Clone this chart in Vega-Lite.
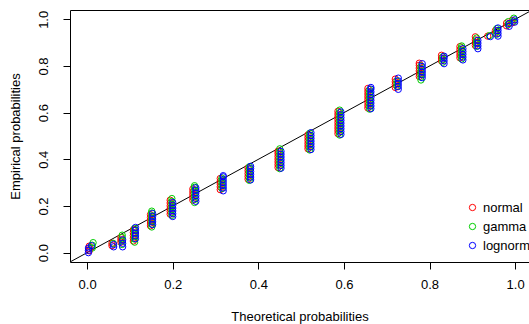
{
  "$schema": "https://vega.github.io/schema/vega-lite/v6.json",
  "width": 459,
  "height": 252,
  "autosize": {"type": "none"},
  "padding": {"left": 70, "top": 10, "right": 0, "bottom": 62},
  "background": "white",
  "config": {
    "view": {"stroke": "black", "strokeWidth": 1},
    "font": "Liberation Sans",
    "axis": {"grid": false, "domain": false, "tickColor": "black", "tickSize": 7, "labelFontSize": 13, "titleFontSize": 13, "labelColor": "black", "titleColor": "black", "titleFontWeight": "normal", "labelFont": "Liberation Sans", "titleFont": "Liberation Sans"}
  },
  "layer": [
    {
      "data": {"values": [{"x": -0.2, "y": -0.2}, {"x": 1.2, "y": 1.2}]},
      "mark": {"type": "line", "color": "black", "strokeWidth": 1, "clip": true},
      "encoding": {
        "x": {"field": "x", "type": "quantitative"},
        "y": {"field": "y", "type": "quantitative"}
      }
    },
    {
      "data": {"values": [
        {"d":"normal","x":0.005,"y":0.008},{"d":"normal","x":0.005,"y":0.018},{"d":"normal","x":0.005,"y":0.028},
        {"d":"normal","x":0.058,"y":0.03},{"d":"normal","x":0.058,"y":0.04},
        {"d":"normal","x":0.079,"y":0.045},{"d":"normal","x":0.079,"y":0.055},{"d":"normal","x":0.079,"y":0.065},
        {"d":"normal","x":0.108,"y":0.05},{"d":"normal","x":0.108,"y":0.062},{"d":"normal","x":0.108,"y":0.074},{"d":"normal","x":0.108,"y":0.086},{"d":"normal","x":0.108,"y":0.098},
        {"d":"normal","x":0.148,"y":0.115},{"d":"normal","x":0.148,"y":0.127},{"d":"normal","x":0.148,"y":0.139},{"d":"normal","x":0.148,"y":0.151},{"d":"normal","x":0.148,"y":0.163},
        {"d":"normal","x":0.194,"y":0.165},{"d":"normal","x":0.194,"y":0.177},{"d":"normal","x":0.194,"y":0.189},{"d":"normal","x":0.194,"y":0.201},{"d":"normal","x":0.194,"y":0.213},{"d":"normal","x":0.194,"y":0.225},
        {"d":"normal","x":0.247,"y":0.225},{"d":"normal","x":0.247,"y":0.237},{"d":"normal","x":0.247,"y":0.249},{"d":"normal","x":0.247,"y":0.261},{"d":"normal","x":0.247,"y":0.273},
        {"d":"normal","x":0.311,"y":0.27},{"d":"normal","x":0.311,"y":0.282},{"d":"normal","x":0.311,"y":0.294},{"d":"normal","x":0.311,"y":0.306},{"d":"normal","x":0.311,"y":0.318},
        {"d":"normal","x":0.376,"y":0.315},{"d":"normal","x":0.376,"y":0.327},{"d":"normal","x":0.376,"y":0.339},{"d":"normal","x":0.376,"y":0.351},{"d":"normal","x":0.376,"y":0.363},
        {"d":"normal","x":0.446,"y":0.365},{"d":"normal","x":0.446,"y":0.377},{"d":"normal","x":0.446,"y":0.389},{"d":"normal","x":0.446,"y":0.401},{"d":"normal","x":0.446,"y":0.413},{"d":"normal","x":0.446,"y":0.425},{"d":"normal","x":0.446,"y":0.435},
        {"d":"normal","x":0.516,"y":0.445},{"d":"normal","x":0.516,"y":0.457},{"d":"normal","x":0.516,"y":0.469},{"d":"normal","x":0.516,"y":0.481},{"d":"normal","x":0.516,"y":0.493},{"d":"normal","x":0.516,"y":0.505},
        {"d":"normal","x":0.586,"y":0.51},{"d":"normal","x":0.586,"y":0.522},{"d":"normal","x":0.586,"y":0.534},{"d":"normal","x":0.586,"y":0.546},{"d":"normal","x":0.586,"y":0.558},{"d":"normal","x":0.586,"y":0.57},{"d":"normal","x":0.586,"y":0.582},{"d":"normal","x":0.586,"y":0.594},{"d":"normal","x":0.586,"y":0.606},
        {"d":"normal","x":0.656,"y":0.62},{"d":"normal","x":0.656,"y":0.632},{"d":"normal","x":0.656,"y":0.644},{"d":"normal","x":0.656,"y":0.656},{"d":"normal","x":0.656,"y":0.668},{"d":"normal","x":0.656,"y":0.68},{"d":"normal","x":0.656,"y":0.692},{"d":"normal","x":0.656,"y":0.704},
        {"d":"normal","x":0.72,"y":0.708},{"d":"normal","x":0.72,"y":0.72},{"d":"normal","x":0.72,"y":0.732},{"d":"normal","x":0.72,"y":0.744},
        {"d":"normal","x":0.776,"y":0.755},{"d":"normal","x":0.776,"y":0.767},{"d":"normal","x":0.776,"y":0.779},{"d":"normal","x":0.776,"y":0.791},{"d":"normal","x":0.776,"y":0.803},{"d":"normal","x":0.776,"y":0.812},
        {"d":"normal","x":0.828,"y":0.822},{"d":"normal","x":0.828,"y":0.834},{"d":"normal","x":0.828,"y":0.846},
        {"d":"normal","x":0.871,"y":0.835},{"d":"normal","x":0.871,"y":0.847},{"d":"normal","x":0.871,"y":0.859},{"d":"normal","x":0.871,"y":0.871},{"d":"normal","x":0.871,"y":0.883},
        {"d":"normal","x":0.907,"y":0.888},{"d":"normal","x":0.907,"y":0.9},{"d":"normal","x":0.907,"y":0.912},{"d":"normal","x":0.907,"y":0.925},
        {"d":"normal","x":0.936,"y":0.928},
        {"d":"normal","x":0.954,"y":0.94},{"d":"normal","x":0.954,"y":0.952},
        {"d":"normal","x":0.98,"y":0.972},{"d":"normal","x":0.98,"y":0.984},
        {"d":"normal","x":0.993,"y":0.985},{"d":"normal","x":0.993,"y":0.996},

        {"d":"gamma","x":0.012,"y":0.02},{"d":"gamma","x":0.012,"y":0.032},{"d":"gamma","x":0.014,"y":0.043},
        {"d":"gamma","x":0.061,"y":0.04},
        {"d":"gamma","x":0.082,"y":0.035},{"d":"gamma","x":0.082,"y":0.05},{"d":"gamma","x":0.082,"y":0.065},{"d":"gamma","x":0.082,"y":0.075},
        {"d":"gamma","x":0.111,"y":0.045},{"d":"gamma","x":0.111,"y":0.058},{"d":"gamma","x":0.111,"y":0.07},{"d":"gamma","x":0.111,"y":0.082},{"d":"gamma","x":0.111,"y":0.094},{"d":"gamma","x":0.111,"y":0.104},
        {"d":"gamma","x":0.151,"y":0.11},{"d":"gamma","x":0.151,"y":0.122},{"d":"gamma","x":0.151,"y":0.134},{"d":"gamma","x":0.151,"y":0.146},{"d":"gamma","x":0.151,"y":0.158},{"d":"gamma","x":0.151,"y":0.17},{"d":"gamma","x":0.151,"y":0.178},
        {"d":"gamma","x":0.198,"y":0.16},{"d":"gamma","x":0.198,"y":0.172},{"d":"gamma","x":0.198,"y":0.184},{"d":"gamma","x":0.198,"y":0.196},{"d":"gamma","x":0.198,"y":0.208},{"d":"gamma","x":0.198,"y":0.22},{"d":"gamma","x":0.198,"y":0.232},
        {"d":"gamma","x":0.251,"y":0.215},{"d":"gamma","x":0.251,"y":0.228},{"d":"gamma","x":0.251,"y":0.241},{"d":"gamma","x":0.251,"y":0.254},{"d":"gamma","x":0.251,"y":0.267},{"d":"gamma","x":0.251,"y":0.28},{"d":"gamma","x":0.251,"y":0.287},
        {"d":"gamma","x":0.315,"y":0.275},{"d":"gamma","x":0.315,"y":0.287},{"d":"gamma","x":0.315,"y":0.299},{"d":"gamma","x":0.315,"y":0.311},{"d":"gamma","x":0.315,"y":0.32},
        {"d":"gamma","x":0.379,"y":0.31},{"d":"gamma","x":0.379,"y":0.322},{"d":"gamma","x":0.379,"y":0.334},{"d":"gamma","x":0.379,"y":0.346},{"d":"gamma","x":0.379,"y":0.358},{"d":"gamma","x":0.379,"y":0.368},
        {"d":"gamma","x":0.45,"y":0.36},{"d":"gamma","x":0.45,"y":0.372},{"d":"gamma","x":0.45,"y":0.384},{"d":"gamma","x":0.45,"y":0.396},{"d":"gamma","x":0.45,"y":0.408},{"d":"gamma","x":0.45,"y":0.42},{"d":"gamma","x":0.45,"y":0.432},{"d":"gamma","x":0.45,"y":0.445},
        {"d":"gamma","x":0.52,"y":0.44},{"d":"gamma","x":0.52,"y":0.452},{"d":"gamma","x":0.52,"y":0.464},{"d":"gamma","x":0.52,"y":0.476},{"d":"gamma","x":0.52,"y":0.488},{"d":"gamma","x":0.52,"y":0.5},{"d":"gamma","x":0.52,"y":0.512},
        {"d":"gamma","x":0.59,"y":0.504},{"d":"gamma","x":0.59,"y":0.516},{"d":"gamma","x":0.59,"y":0.528},{"d":"gamma","x":0.59,"y":0.54},{"d":"gamma","x":0.59,"y":0.552},{"d":"gamma","x":0.59,"y":0.564},{"d":"gamma","x":0.59,"y":0.576},{"d":"gamma","x":0.59,"y":0.588},{"d":"gamma","x":0.59,"y":0.6},{"d":"gamma","x":0.59,"y":0.611},
        {"d":"gamma","x":0.66,"y":0.615},{"d":"gamma","x":0.66,"y":0.627},{"d":"gamma","x":0.66,"y":0.639},{"d":"gamma","x":0.66,"y":0.651},{"d":"gamma","x":0.66,"y":0.663},{"d":"gamma","x":0.66,"y":0.675},{"d":"gamma","x":0.66,"y":0.687},{"d":"gamma","x":0.66,"y":0.699},
        {"d":"gamma","x":0.724,"y":0.712},{"d":"gamma","x":0.724,"y":0.724},{"d":"gamma","x":0.724,"y":0.736},
        {"d":"gamma","x":0.78,"y":0.74},{"d":"gamma","x":0.78,"y":0.752},{"d":"gamma","x":0.78,"y":0.764},{"d":"gamma","x":0.78,"y":0.776},{"d":"gamma","x":0.78,"y":0.788},{"d":"gamma","x":0.78,"y":0.8},
        {"d":"gamma","x":0.831,"y":0.816},{"d":"gamma","x":0.831,"y":0.828},{"d":"gamma","x":0.831,"y":0.84},
        {"d":"gamma","x":0.875,"y":0.83},{"d":"gamma","x":0.875,"y":0.842},{"d":"gamma","x":0.875,"y":0.854},{"d":"gamma","x":0.875,"y":0.866},{"d":"gamma","x":0.875,"y":0.878},{"d":"gamma","x":0.875,"y":0.886},
        {"d":"gamma","x":0.91,"y":0.884},{"d":"gamma","x":0.91,"y":0.896},{"d":"gamma","x":0.91,"y":0.908},{"d":"gamma","x":0.91,"y":0.92},
        {"d":"gamma","x":0.94,"y":0.93},
        {"d":"gamma","x":0.957,"y":0.936},{"d":"gamma","x":0.957,"y":0.948},{"d":"gamma","x":0.957,"y":0.96},
        {"d":"gamma","x":0.984,"y":0.978},{"d":"gamma","x":0.984,"y":0.99},
        {"d":"gamma","x":0.997,"y":0.992},{"d":"gamma","x":0.997,"y":1.005},

        {"d":"lognorm","x":0.003,"y":0.0},{"d":"lognorm","x":0.003,"y":0.01},{"d":"lognorm","x":0.003,"y":0.02},{"d":"lognorm","x":0.01,"y":0.03},
        {"d":"lognorm","x":0.062,"y":0.025},{"d":"lognorm","x":0.062,"y":0.035},
        {"d":"lognorm","x":0.083,"y":0.025},{"d":"lognorm","x":0.083,"y":0.04},{"d":"lognorm","x":0.083,"y":0.055},
        {"d":"lognorm","x":0.113,"y":0.06},{"d":"lognorm","x":0.113,"y":0.072},{"d":"lognorm","x":0.113,"y":0.084},{"d":"lognorm","x":0.113,"y":0.096},{"d":"lognorm","x":0.113,"y":0.108},
        {"d":"lognorm","x":0.153,"y":0.12},{"d":"lognorm","x":0.153,"y":0.132},{"d":"lognorm","x":0.153,"y":0.144},{"d":"lognorm","x":0.153,"y":0.156},{"d":"lognorm","x":0.153,"y":0.168},
        {"d":"lognorm","x":0.2,"y":0.155},{"d":"lognorm","x":0.2,"y":0.167},{"d":"lognorm","x":0.2,"y":0.179},{"d":"lognorm","x":0.2,"y":0.191},{"d":"lognorm","x":0.2,"y":0.203},{"d":"lognorm","x":0.2,"y":0.215},
        {"d":"lognorm","x":0.254,"y":0.22},{"d":"lognorm","x":0.254,"y":0.232},{"d":"lognorm","x":0.254,"y":0.244},{"d":"lognorm","x":0.254,"y":0.256},{"d":"lognorm","x":0.254,"y":0.268},{"d":"lognorm","x":0.254,"y":0.278},
        {"d":"lognorm","x":0.318,"y":0.265},{"d":"lognorm","x":0.318,"y":0.277},{"d":"lognorm","x":0.318,"y":0.289},{"d":"lognorm","x":0.318,"y":0.301},{"d":"lognorm","x":0.318,"y":0.313},{"d":"lognorm","x":0.318,"y":0.325},{"d":"lognorm","x":0.318,"y":0.33},
        {"d":"lognorm","x":0.382,"y":0.312},{"d":"lognorm","x":0.382,"y":0.324},{"d":"lognorm","x":0.382,"y":0.336},{"d":"lognorm","x":0.382,"y":0.348},{"d":"lognorm","x":0.382,"y":0.36},{"d":"lognorm","x":0.382,"y":0.37},
        {"d":"lognorm","x":0.453,"y":0.362},{"d":"lognorm","x":0.453,"y":0.374},{"d":"lognorm","x":0.453,"y":0.386},{"d":"lognorm","x":0.453,"y":0.398},{"d":"lognorm","x":0.453,"y":0.41},{"d":"lognorm","x":0.453,"y":0.422},{"d":"lognorm","x":0.453,"y":0.434},
        {"d":"lognorm","x":0.523,"y":0.442},{"d":"lognorm","x":0.523,"y":0.454},{"d":"lognorm","x":0.523,"y":0.466},{"d":"lognorm","x":0.523,"y":0.478},{"d":"lognorm","x":0.523,"y":0.49},{"d":"lognorm","x":0.523,"y":0.502},{"d":"lognorm","x":0.523,"y":0.514},
        {"d":"lognorm","x":0.593,"y":0.507},{"d":"lognorm","x":0.593,"y":0.519},{"d":"lognorm","x":0.593,"y":0.531},{"d":"lognorm","x":0.593,"y":0.543},{"d":"lognorm","x":0.593,"y":0.555},{"d":"lognorm","x":0.593,"y":0.567},{"d":"lognorm","x":0.593,"y":0.579},{"d":"lognorm","x":0.593,"y":0.591},{"d":"lognorm","x":0.593,"y":0.603},
        {"d":"lognorm","x":0.663,"y":0.617},{"d":"lognorm","x":0.663,"y":0.629},{"d":"lognorm","x":0.663,"y":0.641},{"d":"lognorm","x":0.663,"y":0.653},{"d":"lognorm","x":0.663,"y":0.665},{"d":"lognorm","x":0.663,"y":0.677},{"d":"lognorm","x":0.663,"y":0.689},{"d":"lognorm","x":0.663,"y":0.701},{"d":"lognorm","x":0.663,"y":0.708},
        {"d":"lognorm","x":0.727,"y":0.7},{"d":"lognorm","x":0.727,"y":0.712},{"d":"lognorm","x":0.727,"y":0.724},{"d":"lognorm","x":0.727,"y":0.736},{"d":"lognorm","x":0.727,"y":0.748},
        {"d":"lognorm","x":0.783,"y":0.75},{"d":"lognorm","x":0.783,"y":0.762},{"d":"lognorm","x":0.783,"y":0.774},{"d":"lognorm","x":0.783,"y":0.786},{"d":"lognorm","x":0.783,"y":0.798},{"d":"lognorm","x":0.783,"y":0.81},
        {"d":"lognorm","x":0.834,"y":0.81},{"d":"lognorm","x":0.834,"y":0.822},{"d":"lognorm","x":0.834,"y":0.834},{"d":"lognorm","x":0.834,"y":0.842},
        {"d":"lognorm","x":0.878,"y":0.826},{"d":"lognorm","x":0.878,"y":0.838},{"d":"lognorm","x":0.878,"y":0.85},{"d":"lognorm","x":0.878,"y":0.862},{"d":"lognorm","x":0.878,"y":0.874},
        {"d":"lognorm","x":0.913,"y":0.874},{"d":"lognorm","x":0.913,"y":0.886},{"d":"lognorm","x":0.913,"y":0.898},{"d":"lognorm","x":0.913,"y":0.91},
        {"d":"lognorm","x":0.942,"y":0.926},
        {"d":"lognorm","x":0.96,"y":0.928},{"d":"lognorm","x":0.96,"y":0.94},{"d":"lognorm","x":0.96,"y":0.952},{"d":"lognorm","x":0.96,"y":0.963},
        {"d":"lognorm","x":0.986,"y":0.97},{"d":"lognorm","x":0.986,"y":0.982},
        {"d":"lognorm","x":0.999,"y":0.988},{"d":"lognorm","x":0.999,"y":0.998}
      ]},
      "mark": {"type": "point", "shape": "circle", "filled": false, "size": 40, "strokeWidth": 1, "opacity": 1, "clip": true},
      "encoding": {
        "x": {"field": "x", "type": "quantitative",
              "scale": {"domain": [-0.04, 1.0324], "nice": false, "zero": false},
              "axis": {"title": "Theoretical probabilities", "values": [0, 0.2, 0.4, 0.6, 0.8, 1.0], "format": ".1f", "labelPadding": 9, "titlePadding": 19, "labelFlush": false, "labelOverlap": false}},
        "y": {"field": "y", "type": "quantitative",
              "scale": {"domain": [-0.04, 1.04], "nice": false, "zero": false},
              "axis": {"title": "Empirical probabilities", "values": [0, 0.2, 0.4, 0.6, 0.8, 1.0], "format": ".1f", "labelAngle": -90, "labelAlign": "center", "labelBaseline": "bottom", "labelPadding": 13, "titlePadding": 15, "labelFlush": false, "labelOverlap": false}},
        "color": {"field": "d", "type": "nominal",
                  "scale": {"domain": ["normal", "gamma", "lognorm"], "range": ["#FF0000", "#00CD00", "#0000FF"]},
                  "legend": {"title": null, "orient": "none", "legendX": 396, "legendY": 191, "symbolType": "circle", "symbolSize": 40, "symbolStrokeWidth": 1, "labelFontSize": 13, "labelFont": "Liberation Sans", "labelColor": "black", "labelOffset": 4, "rowPadding": 5, "padding": 0}},
        "order": {"value": 0}
      }
    }
  ]
}
